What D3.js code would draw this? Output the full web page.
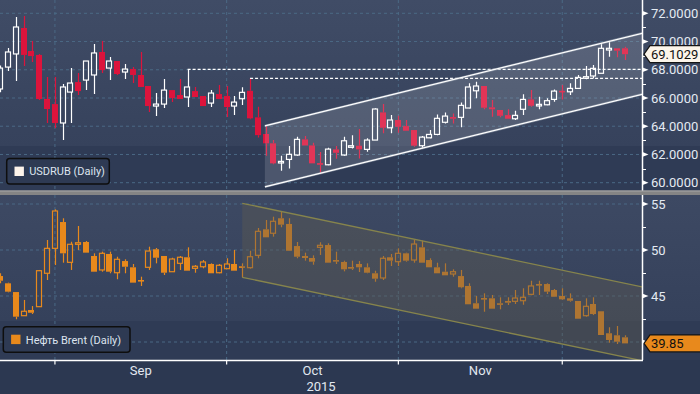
<!DOCTYPE html>
<html>
<head>
<meta charset="utf-8">
<script src="https://d3js.org/d3.v7.min.js"></script>
<style>
  body { margin: 0; background: #2c3851; }
  svg { display: block; font-family: Roboto, "Liberation Sans", sans-serif; }
</style>
</head>
<body>
<svg id="drawing_region"></svg>
<script>
// trading days shown on the chart
const startDay = new Date(2015, 7, 21);
const endDay = new Date(2015, 11, 12);

// USDRUB daily [open, high, low, close]
const usdrub = [
    [66.64, 68.30, 66.40, 68.12], [68.19, 69.54, 67.91, 69.26], [69.12, 71.74, 67.20, 71.03],
    [70.96, 71.81, 68.27, 69.05], [69.33, 70.04, 68.55, 68.97], [69.05, 69.12, 65.86, 65.93],
    [65.93, 67.49, 64.23, 65.22], [65.57, 67.49, 63.87, 64.23], [64.23, 66.99, 63.02, 66.78],
    [66.42, 68.12, 64.23, 67.06], [67.13, 67.77, 66.21, 66.49], [67.27, 68.62, 66.56, 68.62],
    [67.63, 69.82, 66.28, 69.19], [69.26, 70.04, 67.77, 67.98], [68.12, 68.90, 67.27, 68.62],
    [68.62, 68.62, 67.63, 67.70], [67.84, 68.41, 67.34, 68.05], [68.05, 68.19, 67.06, 67.63],
    [67.63, 69.26, 66.78, 66.78], [66.85, 66.85, 65.00, 65.43], [65.43, 66.35, 64.72, 65.57],
    [65.57, 67.34, 65.29, 66.56], [66.56, 66.56, 65.71, 66.00], [66.21, 67.34, 65.93, 65.93],
    [66.07, 68.03, 65.36, 66.78], [66.49, 66.78, 66.07, 66.07], [66.14, 66.14, 65.43, 65.43],
    [65.64, 66.56, 65.36, 66.35], [66.28, 66.92, 65.93, 65.93], [66.14, 66.85, 64.65, 65.36],
    [65.43, 66.14, 64.79, 65.71], [65.95, 66.76, 65.50, 66.40], [66.51, 67.39, 64.50, 64.56],
    [64.63, 65.38, 63.21, 63.37], [63.45, 64.01, 61.91, 62.79], [62.79, 63.02, 61.30, 61.37],
    [61.44, 61.91, 60.84, 61.51], [61.65, 62.60, 61.01, 62.01], [61.96, 63.25, 61.91, 63.07],
    [63.07, 63.30, 62.64, 62.64], [62.64, 62.83, 61.37, 61.37], [61.39, 62.17, 60.66, 61.27],
    [61.27, 62.47, 61.23, 62.38], [62.36, 62.60, 61.70, 62.12], [61.96, 63.25, 61.91, 62.97],
    [62.55, 63.37, 62.43, 62.62], [62.62, 63.80, 61.72, 62.36], [62.36, 63.14, 62.19, 63.02],
    [63.02, 65.27, 63.02, 65.22], [64.98, 65.57, 63.50, 63.89], [63.89, 64.79, 63.50, 64.44],
    [64.44, 64.74, 63.54, 63.96], [64.01, 64.44, 63.68, 63.68], [63.73, 63.73, 62.55, 62.62],
    [62.62, 63.30, 62.43, 63.23], [63.18, 63.73, 63.14, 63.42], [63.42, 64.84, 63.37, 64.56],
    [64.28, 64.98, 64.20, 64.72], [64.65, 64.91, 64.20, 64.53], [64.63, 65.69, 63.92, 65.48],
    [65.29, 67.04, 65.27, 66.78], [66.51, 67.15, 65.98, 66.85], [66.85, 66.85, 65.20, 65.31],
    [65.34, 65.86, 64.67, 65.20], [65.15, 65.15, 64.63, 64.74], [64.79, 65.20, 64.53, 64.53],
    [64.53, 65.10, 64.44, 64.77], [65.20, 66.26, 64.79, 65.90], [65.90, 66.56, 65.38, 65.45],
    [65.48, 66.09, 65.20, 65.55], [65.52, 65.98, 65.48, 65.81], [65.90, 66.61, 65.73, 66.49],
    [66.51, 66.92, 65.90, 66.47], [66.44, 67.04, 66.21, 66.68], [66.68, 67.63, 66.68, 67.46],
    [67.41, 68.27, 67.32, 67.51], [67.56, 68.34, 67.39, 68.10], [67.75, 69.87, 67.75, 69.52],
    [69.40, 69.99, 68.92, 69.52], [69.52, 69.52, 68.88, 69.35], [69.52, 69.63, 68.69, 69.1029]
];

// Brent daily [open, high, low, close]
const brent = [
    [47.17, 47.47, 46.38, 46.66], [46.38, 46.45, 45.40, 45.47], [45.43, 45.43, 42.47, 42.75],
    [42.86, 44.57, 42.86, 43.34], [43.48, 43.91, 43.04, 43.18], [43.84, 47.83, 43.84, 47.75],
    [47.47, 51.09, 46.74, 50.18], [50.18, 54.42, 48.37, 54.24], [53.04, 53.45, 48.62, 49.64],
    [48.66, 50.90, 47.83, 50.62], [50.65, 52.61, 50.00, 50.79], [50.87, 50.98, 49.71, 49.71],
    [49.35, 49.64, 47.64, 47.64], [47.83, 49.82, 47.64, 49.64], [49.57, 49.82, 47.47, 47.64],
    [47.53, 49.27, 46.82, 48.99], [48.80, 48.99, 47.47, 48.18], [48.12, 48.48, 46.45, 46.45],
    [46.74, 47.10, 46.09, 46.70], [48.12, 50.36, 47.83, 49.89], [50.08, 50.22, 48.55, 49.16],
    [49.35, 49.35, 47.28, 47.53], [47.64, 49.16, 47.64, 49.02], [48.55, 49.35, 47.83, 49.21],
    [49.21, 50.29, 47.75, 47.75], [48.01, 48.37, 47.53, 48.23], [48.18, 48.91, 48.01, 48.70],
    [48.48, 48.55, 47.47, 47.47], [47.53, 48.48, 47.47, 48.34], [47.97, 49.10, 47.97, 48.48],
    [48.48, 50.00, 47.75, 47.75], [48.23, 48.55, 47.03, 48.12], [48.08, 49.92, 47.97, 49.27],
    [49.42, 52.39, 49.10, 52.03], [52.25, 53.26, 51.38, 51.38], [51.82, 53.62, 51.45, 53.12],
    [53.45, 54.16, 52.47, 52.75], [52.83, 53.45, 49.92, 49.92], [50.43, 50.87, 49.10, 49.27],
    [49.35, 49.71, 48.84, 49.13], [49.13, 49.42, 48.40, 48.73], [50.29, 50.84, 49.46, 50.51],
    [50.54, 50.73, 48.62, 48.62], [48.91, 49.82, 48.48, 48.77], [48.70, 48.84, 47.68, 47.90],
    [48.15, 48.84, 47.83, 47.97], [48.48, 48.80, 47.61, 48.12], [48.12, 48.55, 47.47, 47.53],
    [47.47, 47.75, 46.55, 46.88], [46.96, 49.35, 46.74, 49.10], [49.21, 49.57, 48.26, 48.84],
    [48.73, 50.18, 48.26, 49.64], [49.64, 49.71, 48.73, 48.84], [48.91, 51.09, 48.62, 50.65],
    [50.29, 51.01, 48.62, 48.62], [48.91, 49.10, 48.12, 48.12], [48.12, 48.62, 47.47, 47.47],
    [47.64, 48.55, 47.25, 47.25], [47.39, 47.90, 47.10, 47.64], [47.17, 47.83, 45.84, 45.95],
    [46.09, 46.38, 44.10, 44.10], [44.21, 45.00, 43.62, 43.62], [44.78, 45.29, 43.29, 44.64],
    [44.75, 45.11, 43.62, 43.62], [44.21, 44.86, 43.55, 44.05], [44.46, 44.86, 44.02, 44.27],
    [44.42, 45.65, 44.13, 44.78], [44.49, 45.84, 44.05, 44.86], [45.18, 46.66, 45.08, 46.09],
    [46.30, 46.66, 45.11, 46.16], [46.30, 46.38, 45.22, 45.47], [45.65, 45.76, 44.92, 44.92],
    [45.00, 45.84, 44.57, 44.64], [44.75, 45.29, 44.38, 44.49], [44.46, 44.46, 42.53, 42.53],
    [42.86, 44.75, 42.75, 43.88], [44.13, 44.86, 42.93, 43.04], [43.34, 43.34, 40.76, 40.76],
    [40.95, 41.60, 39.92, 40.22], [40.73, 41.74, 39.78, 40.03], [40.51, 40.73, 39.85, 39.85]
];

const rubTicks = [60, 62, 64, 66, 68, 70, 72];
const rubMinorTicks = [61, 63, 65, 67, 69, 71];
const brentTicks = [40, 45, 50, 55];
const brentMinorTicks = [42.5, 47.5, 52.5];

const monthLabels = ['Sep', 'Oct', 'Nov'];
const yearLabel = '2015';

// candles whose high is carried right as a dotted level
const rubLevels = [24, 32];

// trend channels: candle index range and the value of each edge at both ends
const rubChannel = { from: 33.9, to: 82.5, upper: [64.03, 70.62], lower: [59.71, 66.30] };
const brentChannel = { from: 31.0, to: 82.5, upper: [55.08, 45.95], lower: [47.03, 37.92] };

const W = 700, H = 394;
const plot_width = 642;
const grid_color = '#4b6985';

const days = d3.timeDay.range(startDay, endDay).filter(d => d.getDay() % 6 != 0);

const svg = d3.select('#drawing_region')
    .attr('width', W)
    .attr('height', H);

const xscale = d3.scaleBand()
    .domain(d3.range(days.length))
    .range([-3.6, 628.6])
    .paddingInner(0.2)
    .paddingOuter(0.1);

// centre of a (possibly fractional) candle slot
const xAt = i => xscale(0) + xscale.bandwidth() / 2 + i * xscale.step();

const monthStarts = d3.range(1, days.length).filter(i => days[i].getMonth() != days[i - 1].getMonth());

// background bands
const defs = svg.append('defs');
function addGradient( id, c0, c1 ) {
    const g = defs.append('linearGradient').attr('id', id)
        .attr('x1', 0).attr('y1', 0).attr('x2', 0).attr('y2', 1);
    g.append('stop').attr('offset', '0%').attr('stop-color', c0);
    g.append('stop').attr('offset', '100%').attr('stop-color', c1);
}
addGradient('bg_top', '#404c66', '#36425c');
addGradient('bg_bottom', '#3d4963', '#35415b');

svg.append('rect').attr('width', W).attr('height', H).attr('fill', '#2c3851');
svg.append('rect').attr('y', 0).attr('width', W).attr('height', 146).attr('fill', 'url(#bg_top)');
svg.append('rect').attr('y', 146).attr('width', W).attr('height', 44.5).attr('fill', '#2f3b55');
svg.append('rect').attr('y', 195).attr('width', W).attr('height', 126).attr('fill', 'url(#bg_bottom)');
svg.append('rect').attr('y', 321).attr('width', W).attr('height', 39).attr('fill', '#2f3b55');
svg.append('rect').attr('y', 190.5).attr('width', W).attr('height', 4.5).attr('fill', '#858585');
svg.append('rect').attr('y', 190.5).attr('width', W).attr('height', 1).attr('fill', '#a8a8a8');


class CandlePanel {

    constructor( config, data ) {
        this.config = config;
        this.data = data;
        this.init();
    }

    init() {
        let self = this;
        const c = self.config;

        self.yscale = d3.scaleLinear()
            .domain(c.domain)
            .range(c.range);

        defs.append('clipPath').attr('id', c.name + '_clip')
            .append('rect')
            .attr('x', 0).attr('y', c.top)
            .attr('width', plot_width).attr('height', c.bottom - c.top);

        self.grid = svg.append('g');
        self.chart = svg.append('g').attr('clip-path', `url(#${c.name}_clip)`);
        self.axis_group = svg.append('g');
    }

    update() {
        let self = this;
        self.render();
    }

    render() {
        let self = this;
        const c = self.config;
        const y = self.yscale;
        const bw = xscale.bandwidth();

        // dashed grid
        self.grid.selectAll('.hgrid')
            .data(c.ticks)
            .join('line')
            .attr('x1', 0).attr('x2', plot_width)
            .attr('y1', d => y(d)).attr('y2', d => y(d))
            .attr('stroke', grid_color).attr('stroke-dasharray', '3,3');
        self.grid.selectAll('.vgrid')
            .data(monthStarts)
            .join('line')
            .attr('x1', d => xAt(d)).attr('x2', d => xAt(d))
            .attr('y1', c.top).attr('y2', c.bottom)
            .attr('stroke', grid_color).attr('stroke-dasharray', '3,3');

        // candles
        const rows = self.data.map((d, i) => ({ i: i, o: d[0], h: d[1], l: d[2], c: d[3], up: d[3] >= d[0] }));

        const wick = rows.flatMap(d => [
            [d.i, d.h, Math.max(d.o, d.c)],
            [d.i, Math.min(d.o, d.c), d.l]
        ]);
        self.chart.append('g').selectAll('line')
            .data(wick)
            .join('line')
            .attr('x1', d => Math.round(xAt(d[0])) + 0.5)
            .attr('x2', d => Math.round(xAt(d[0])) + 0.5)
            .attr('y1', d => y(d[1]))
            .attr('y2', d => y(d[2]))
            .attr('stroke', d => rows[d[0]].up ? c.upColor : c.downColor)
            .attr('stroke-width', 1.2);

        self.chart.append('g').selectAll('rect')
            .data(rows)
            .join('rect')
            .attr('x', d => Math.round(xAt(d.i) - bw / 2) + (d.up ? 0.5 : 0))
            .attr('width', d => d.up ? Math.round(bw) - 1 : Math.round(bw))
            .attr('y', d => y(Math.max(d.o, d.c)))
            .attr('height', d => Math.max(1.6, y(Math.min(d.o, d.c)) - y(Math.max(d.o, d.c))))
            .attr('fill', d => d.up ? 'none' : c.downColor)
            .attr('stroke', d => d.up ? c.upColor : 'none')
            .attr('stroke-width', 1.2);

        // dotted levels from a candle high to the axis
        self.chart.selectAll('.level')
            .data(c.levels || [])
            .join('line')
            .attr('x1', d => xAt(d)).attr('x2', plot_width)
            .attr('y1', d => y(self.data[d][1])).attr('y2', d => y(self.data[d][1]))
            .attr('stroke', '#ffffff').attr('stroke-width', 1.2)
            .attr('stroke-dasharray', '3,2');

        // trend channel
        const ch = c.channel;
        const corners = [
            [ch.from, ch.upper[0]], [ch.to, ch.upper[1]],
            [ch.to, ch.lower[1]], [ch.from, ch.lower[0]]
        ];
        self.chart.append('path')
            .attr('d', d3.line().x(d => xAt(d[0])).y(d => y(d[1]))(corners) + 'Z')
            .attr('fill', c.channelFill);
        [[corners[0], corners[1]], [corners[3], corners[2]]].forEach(seg => {
            if (c.channelHalo) {
                self.chart.append('path')
                    .attr('d', d3.line().x(d => xAt(d[0])).y(d => y(d[1]))(seg))
                    .attr('stroke', c.channelHalo).attr('stroke-width', 2.4).attr('fill', 'none');
            }
            self.chart.append('path')
                .attr('d', d3.line().x(d => xAt(d[0])).y(d => y(d[1]))(seg))
                .attr('stroke', c.channelLine).attr('stroke-width', c.channelWidth).attr('fill', 'none');
        });

        // right axis
        const last = self.data[self.data.length - 1][3];
        const ly = y(last);
        const ax = self.axis_group;
        ax.append('line')
            .attr('x1', plot_width + 0.5).attr('x2', plot_width + 0.5)
            .attr('y1', c.top).attr('y2', c.bottom)
            .attr('stroke', '#ffffff').attr('stroke-width', 1.5);
        ax.selectAll('.minor')
            .data(c.minorTicks)
            .join('line')
            .attr('x1', plot_width).attr('x2', plot_width + 4)
            .attr('y1', d => Math.round(y(d)) + 0.5).attr('y2', d => Math.round(y(d)) + 0.5)
            .attr('stroke', '#ffffff');
        ax.selectAll('.major')
            .data(c.ticks)
            .join('path')
            .attr('d', d => `M${plot_width},${y(d) - 2.6}L${plot_width + 6.5},${y(d)}L${plot_width},${y(d) + 2.6}Z`)
            .attr('fill', '#ffffff');
        // a label sitting right under the price tag is hidden by it
        ax.selectAll('.label')
            .data(c.ticks.filter(d => Math.abs(y(d) - ly) > 9))
            .join('text')
            .attr('x', 651)
            .attr('y', d => y(d))
            .attr('dy', '0.36em')
            .attr('font-size', '13px')
            .attr('fill', '#e4eaf2')
            .text(d => c.format(d));

        // last price tag
        ax.append('path')
            .attr('d', `M644,${ly}L650,${ly - 8.5}H701V${ly + 8.5}H650Z`)
            .attr('fill', c.tagFill)
            .attr('stroke', '#151515').attr('stroke-width', 1.2);
        ax.append('text')
            .attr('x', 651).attr('y', ly).attr('dy', '0.36em')
            .attr('font-size', '13px').attr('fill', '#111111')
            .text(c.format(last, true));

        // legend
        const lg = c.legend;
        svg.append('rect')
            .attr('x', lg.x).attr('y', lg.y)
            .attr('width', lg.w).attr('height', 25.5)
            .attr('rx', 3)
            .attr('fill', '#2e3a53')
            .attr('stroke', '#0e0e0e').attr('stroke-width', 1.5);
        svg.append('rect')
            .attr('x', lg.x + 7.8).attr('y', lg.y + 8)
            .attr('width', 9.4).attr('height', 9.4)
            .attr('fill', lg.color);
        svg.append('text')
            .attr('x', lg.x + 22.5).attr('y', lg.y + 12.9)
            .attr('dy', '0.36em')
            .attr('font-size', '11px')
            .attr('fill', '#dde4ee')
            .text(lg.text);
    }
}


const rub_panel = new CandlePanel({
    name: 'rub',
    top: 0, bottom: 190.5,
    domain: [60, 72], range: [182.7, 13.3],
    ticks: rubTicks, minorTicks: rubMinorTicks,
    format: d => d3.format('.4f')(d),
    upColor: '#ffffff', downColor: '#dc143c',
    levels: rubLevels,
    channel: rubChannel,
    channelFill: 'rgba(255,255,255,0.14)',
    channelLine: '#ffffff', channelHalo: 'rgba(150,160,175,0.6)', channelWidth: 1.2,
    tagFill: '#fcf5ea',
    legend: { x: 6.7, y: 158.6, w: 102.6, color: '#fdf3ea', text: 'USDRUB (Daily)' }
}, usdrub);
rub_panel.update();

const brent_panel = new CandlePanel({
    name: 'brent',
    top: 195, bottom: 360,
    domain: [40, 55], range: [342, 204],
    ticks: brentTicks, minorTicks: brentMinorTicks,
    format: (d, tag) => tag ? d3.format('.2f')(d) : d3.format('d')(d),
    upColor: '#e8891c', downColor: '#e8891c',
    channel: brentChannel,
    channelFill: 'rgba(92,90,82,0.42)',
    channelLine: '#86844c', channelWidth: 1.3,
    tagFill: '#e8891c',
    legend: { x: 3.3, y: 326.7, w: 126.7, color: '#e8891c', text: 'Нефть Brent (Daily)' }
}, brent);
brent_panel.update();

// bottom time axis
svg.append('line')
    .attr('x1', 0).attr('x2', plot_width + 1)
    .attr('y1', 360.5).attr('y2', 360.5)
    .attr('stroke', '#ffffff').attr('stroke-width', 1.5);
svg.selectAll('.xtick')
    .data(monthStarts)
    .join('line')
    .attr('x1', d => xAt(d)).attr('x2', d => xAt(d))
    .attr('y1', 360).attr('y2', 364.5)
    .attr('stroke', '#ffffff').attr('stroke-width', 1.2);
svg.selectAll('.month')
    .data(monthLabels)
    .join('text')
    .attr('x', (d, k) => (xAt(monthStarts[k]) + xAt(monthStarts[k + 1])) / 2)
    .attr('y', 375)
    .attr('text-anchor', 'middle')
    .attr('font-size', '13px')
    .attr('fill', '#e2e8f0')
    .text(d => d);
svg.append('text')
    .attr('x', plot_width / 2)
    .attr('y', 390.5)
    .attr('text-anchor', 'middle')
    .attr('font-size', '13px')
    .attr('fill', '#e2e8f0')
    .text(yearLabel);
</script>
</body>
</html>
